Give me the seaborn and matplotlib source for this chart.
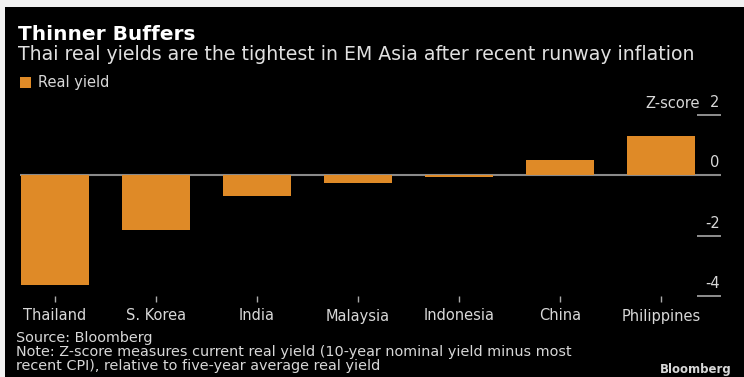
import matplotlib
matplotlib.use("Agg")
import matplotlib.pyplot as plt
import matplotlib.patches as mpatches
import matplotlib.transforms as mtransforms
import seaborn as sns
import pandas as pd

countries = ["Thailand", "S. Korea", "India", "Malaysia", "Indonesia", "China", "Philippines"]
real_yield = [-3.63, -1.8, -0.67, -0.27, -0.05, 0.5, 1.31]
y_ticks = [2, 0, -2, -4]
y_tick_labels = ["2", "0", "-2", "-4"]

title = "Thinner Buffers"
subtitle = "Thai real yields are the tightest in EM Asia after recent runway inflation"
legend_label = "Real yield"
axis_label = "Z-score"
source = "Source: Bloomberg"
note = ("Note: Z-score measures current real yield (10-year nominal yield minus most\n"
        "recent CPI), relative to five-year average real yield")

sns.set_theme(style="dark")
plt.rcParams["font.family"] = ["DejaVu Sans"]

W, H = 744, 377
fig = plt.figure(figsize=(W / 100, H / 100), dpi=100)
fig.patch.set_facecolor("#f2f2f2")
fig.patches.append(mpatches.Rectangle((5 / W, 0), 1, (H - 7) / H, transform=fig.transFigure,
                                      facecolor="black", edgecolor="none", zorder=-10))

ax = fig.add_axes([20 / W, (H - 296) / H, (721 - 20) / W, (296 - 115) / H])
ax.set_facecolor("black")

df = pd.DataFrame({"country": countries, "value": real_yield})
bar_color = "#DF8A27"
sns.barplot(data=df, x="country", y="value", color=bar_color, saturation=1,
            width=0.68, ax=ax, edgecolor="none", zorder=3)

ax.axhline(0, color="#8a8a8a", lw=1.5, zorder=2)
ax.set_xlim(-0.345, 6.595)
ax.set_ylim(-4, 2)
for s in ax.spines.values():
    s.set_visible(False)
ax.grid(False)
ax.set_xlabel("")
ax.set_ylabel("")

ax.tick_params(axis="x", bottom=True, colors="#aaaaaa", length=4, width=1, direction="out",
               labelcolor="#d8d8d8", labelsize=10.5, pad=5)
ax.yaxis.tick_right()
ax.set_yticks(y_ticks)
ax.set_yticklabels(y_tick_labels)
ax.tick_params(axis="y", right=True, colors="#9a9a9a", length=17, width=1.3, direction="in",
               labelcolor="#d8d8d8", labelsize=10.5, pad=-1)
shift = mtransforms.ScaledTranslation(0, 5 / 100, fig.dpi_scale_trans)
for lab in ax.get_yticklabels():
    lab.set_horizontalalignment("right")
    lab.set_verticalalignment("bottom")
    lab.set_transform(lab.get_transform() + shift)

fig.text(700 / W, (H - 103) / H, axis_label, color="#d8d8d8", fontsize=10.5,
         ha="right", va="center")

fig.text(18 / W, (H - 35) / H, title, color="white", fontsize=14.5, fontweight="bold",
         ha="left", va="center")
fig.text(18 / W, (H - 55) / H, subtitle, color="#e0e0e0", fontsize=13.6,
         ha="left", va="center")

handle = mpatches.Patch(facecolor=bar_color, edgecolor="none", label=legend_label)
fig.legend(handles=[handle], loc="center left", bbox_to_anchor=(20 / W, (H - 83) / H),
           frameon=False, handlelength=0.75, handleheight=0.75, handletextpad=0.5,
           fontsize=10.5, labelcolor="#d8d8d8", borderaxespad=0, borderpad=0)

fig.text(16 / W, (H - 338) / H, source, color="#d8d8d8", fontsize=10.4, ha="left", va="center")
fig.text(16 / W, (H - 359) / H, note, color="#d8d8d8", fontsize=10.4, ha="left", va="center",
         linespacing=1.02)
fig.text(732 / W, (H - 370) / H, "Bloomberg", color="#d8d8d8", fontsize=8.5,
         fontweight="bold", ha="right", va="center")

fig.savefig("out.png", dpi=100, facecolor=fig.get_facecolor())
